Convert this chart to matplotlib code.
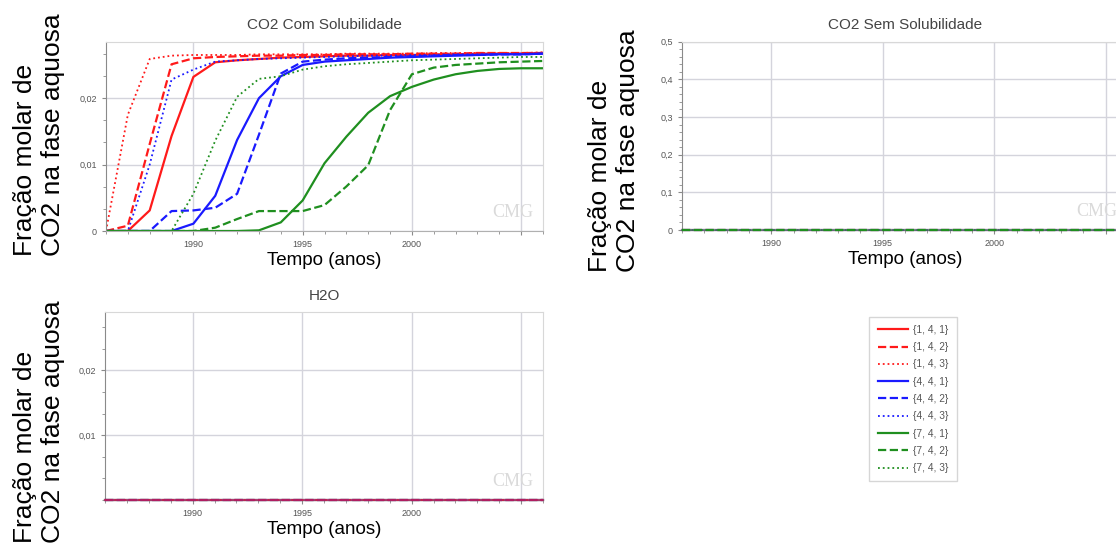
import matplotlib
matplotlib.use("Agg")
import matplotlib.pyplot as plt
from matplotlib.ticker import FixedLocator, MultipleLocator, FuncFormatter

plt.rcParams["font.family"] = ["Liberation Sans", "DejaVu Sans"]

anos = list(range(1986, 2007))

# fracao molar de CO2 na fase aquosa, blocos {i, j, k}
c141 = [0, 0, 0.0031, 0.0143, 0.0232, 0.0254, 0.0257, 0.0259, 0.0261, 0.0262, 0.0263,
        0.0264, 0.0264, 0.0265, 0.0265, 0.0266, 0.0266, 0.0267, 0.0267, 0.0267, 0.0268]
c142 = [0, 0.0008, 0.0131, 0.0251, 0.0260, 0.0262, 0.0263, 0.0264, 0.0264, 0.0265, 0.0265,
        0.0266, 0.0266, 0.0266, 0.0267, 0.0267, 0.0267, 0.0268, 0.0268, 0.0268, 0.0268]
c143 = [0, 0.0175, 0.0259, 0.0264, 0.0265, 0.0265, 0.0265, 0.0266, 0.0266, 0.0266, 0.0266,
        0.0267, 0.0267, 0.0267, 0.0267, 0.0268, 0.0268, 0.0268, 0.0268, 0.0268, 0.0269]
c441 = [0, 0, 0, 0, 0.0011, 0.0053, 0.0137, 0.0200, 0.0233, 0.0250, 0.0255,
        0.0257, 0.0259, 0.0261, 0.0262, 0.0263, 0.0264, 0.0265, 0.0266, 0.0266, 0.0267]
c442 = [0, 0, 0, 0.0030, 0.0031, 0.0035, 0.0056, 0.0145, 0.0237, 0.0255, 0.0258,
        0.0260, 0.0261, 0.0262, 0.0263, 0.0264, 0.0265, 0.0265, 0.0266, 0.0266, 0.0267]
c443 = [0, 0, 0.0100, 0.0228, 0.0243, 0.0255, 0.0257, 0.0259, 0.0260, 0.0261, 0.0262,
        0.0263, 0.0264, 0.0264, 0.0265, 0.0265, 0.0266, 0.0266, 0.0266, 0.0267, 0.0267]
c741 = [0, 0, 0, 0, 0, 0, 0, 0.0001, 0.0013, 0.0046, 0.0102,
        0.0142, 0.0178, 0.0203, 0.0217, 0.0228, 0.0236, 0.0241, 0.0244, 0.0245, 0.0245]
c742 = [0, 0, 0, 0, 0, 0.0005, 0.0018, 0.0030, 0.0030, 0.0030, 0.0039,
        0.0067, 0.0099, 0.0182, 0.0236, 0.0246, 0.0250, 0.0252, 0.0254, 0.0255, 0.0256]
c743 = [0, 0, 0, 0, 0.0056, 0.0136, 0.0202, 0.0229, 0.0233, 0.0243, 0.0248,
        0.0251, 0.0253, 0.0255, 0.0257, 0.0258, 0.0259, 0.0260, 0.0261, 0.0262, 0.0262]

# casos sem solubilidade e H2O ficam em zero o tempo todo
anos_zero = [1986, 2006]
zero = [0.0, 0.0]

rotulos = ["{1, 4, 1}", "{1, 4, 2}", "{1, 4, 3}",
           "{4, 4, 1}", "{4, 4, 2}", "{4, 4, 3}",
           "{7, 4, 1}", "{7, 4, 2}", "{7, 4, 3}"]
series = [c141, c142, c143, c441, c442, c443, c741, c742, c743]
cores = ["#ff1a1a"] * 3 + ["#1a1aff"] * 3 + ["#1f8f1f"] * 3
estilos = ["-", "--", ":"] * 3
larguras = [1.6, 1.6, 1.3] * 3

ylabel = "Fração molar de\nCO2 na fase aquosa"


def virgula(v, pos):
    if abs(v) < 1e-12:
        return "0"
    return ("%g" % v).replace(".", ",")


def estilo_eixo(ax, ymax, ymaj, ymin):
    ax.set_xlim(1986, 2006)
    ax.set_ylim(0, ymax)
    ax.xaxis.set_major_locator(FixedLocator([1990, 1995, 2000, 2005]))
    ax.xaxis.set_minor_locator(MultipleLocator(1))
    ax.xaxis.set_major_formatter(FuncFormatter(lambda v, p: "" if v == 2005 else "%d" % v))
    ax.yaxis.set_major_locator(FixedLocator(ymaj))
    ax.yaxis.set_minor_locator(MultipleLocator(ymin))
    ax.yaxis.set_major_formatter(FuncFormatter(virgula))
    ax.grid(True, which="major", color="#d4d4dc", linewidth=1.0)
    ax.set_axisbelow(True)
    for lado in ["top", "right"]:
        ax.spines[lado].set_color("#d8d8d8")
    ax.spines["left"].set_color("#8a8a8a")
    ax.spines["bottom"].set_color("#b0b0b0")
    ax.tick_params(which="both", direction="out", colors="#8a8a8a", labelsize=6.5,
                   labelcolor="#555555")
    ax.tick_params(which="major", length=3)
    ax.tick_params(which="minor", length=2)
    ax.text(0.93, 0.10, "CMG", transform=ax.transAxes, ha="center", va="center",
            fontsize=13, color="#dadada", family="Liberation Serif")
    ax.set_xlabel("Tempo (anos)", fontsize=13.5, labelpad=2)


fig = plt.figure(figsize=(11.16, 5.45), dpi=100)

ax1 = fig.add_axes([106 / 1116, 1 - 231 / 545, 437 / 1116, 189.3 / 545])
ax2 = fig.add_axes([682 / 1116, 1 - 230 / 545, 446 / 1116, 188.3 / 545])
ax3 = fig.add_axes([105 / 1116, 1 - 500 / 545, 438 / 1116, 188 / 545])

linhas = []
for y, c, ls, lw, lab in zip(series, cores, estilos, larguras, rotulos):
    ln, = ax1.plot(anos, y, color=c, linestyle=ls, linewidth=lw, label=lab)
    linhas.append(ln)

# sem solubilidade: o tracejado verde fica por cima dos demais
ordem2 = [0, 1, 2, 3, 4, 5, 6, 8, 7]
for i in ordem2:
    ax2.plot(anos_zero, zero, color=cores[i], linestyle=estilos[i], linewidth=larguras[i],
             alpha=0.35 if i != 7 else 1.0, clip_on=False, zorder=3)
# H2O: vermelho e azul tracejados aparecem por cima
ordem3 = [6, 7, 8, 3, 5, 0, 2, 4, 1]
for i in ordem3:
    ax3.plot(anos_zero, zero, color=cores[i], linestyle=estilos[i], linewidth=larguras[i],
             alpha=0.5, clip_on=False, zorder=3)

estilo_eixo(ax1, 0.0285, [0, 0.01, 0.02], 0.01 / 3)
estilo_eixo(ax2, 0.5, [0, 0.1, 0.2, 0.3, 0.4, 0.5], 0.02)
estilo_eixo(ax3, 0.029, [0.01, 0.02], 0.01 / 3)

ax1.set_title("CO2 Com Solubilidade", fontsize=11, color="#444444", pad=9)
ax2.set_title("CO2 Sem Solubilidade", fontsize=11, color="#444444", pad=9)
ax3.set_title("H2O", fontsize=11, color="#444444", pad=9)

for x, yb in [(39, 256), (614, 272), (39, 543)]:
    fig.text(x / 1116, 1 - yb / 545, ylabel, rotation=90, ha="center", va="bottom",
             multialignment="left", fontsize=19, linespacing=1.2)

leg = fig.legend(handles=linhas, loc="center", bbox_to_anchor=(913 / 1116, 1 - 399 / 545),
                 fontsize=7.3, frameon=True, fancybox=False, handlelength=3.0,
                 labelspacing=0.72, borderpad=0.8, handletextpad=0.5)
leg.get_frame().set_edgecolor("#cccccc")
leg.get_frame().set_linewidth(1.0)
for t in leg.get_texts():
    t.set_color("#555555")

fig.savefig("out.png", dpi=100)
